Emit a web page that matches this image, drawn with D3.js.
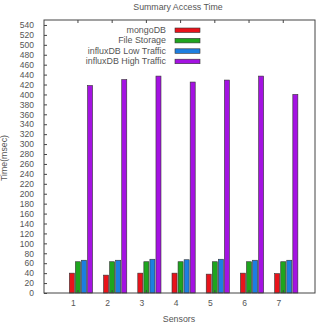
<!DOCTYPE html>
<html>
<head>
<meta charset="utf-8">
<script src="https://cdn.jsdelivr.net/npm/d3@7"></script>
<style>
  body { margin: 0; background: #fff; }
  text { font-family: "Liberation Sans", Arial, sans-serif; fill: #555; }
</style>
</head>
<body>
<svg id="chart" width="320" height="324"></svg>
<script>
// data
var sensors = ["1", "2", "3", "4", "5", "6", "7"];
var seriesNames = ["mongoDB", "File Storage", "influxDB Low Traffic", "influxDB High Traffic"];
var mongoDB = [40, 36, 40, 40, 38, 40, 39];
var fileStorage = [63, 63, 63, 63, 63, 63, 63];
var influxLow = [66, 66, 68, 67, 68, 66, 66];
var influxHigh = [418, 430, 437, 425, 429, 437, 400];
var yTicks = d3.range(0, 541, 20);

const colorArray = ["#e8131b", "#1ea51e", "#1d7ee0", "#a412e2"];
var seriesValues = [mongoDB, fileStorage, influxLow, influxHigh];

var svg = d3.select("#chart");
// note: "top" is taken by window.top, so plot edges get their own names
var pLeft = 44, pRight = 315, pTop = 20, pBottom = 293;

// gnuplot-ish x range, groups sit at 0..6
var x = d3.scaleLinear().domain([-1.08, 6.84]).range([pLeft, pRight]);
var y = d3.scaleLinear().domain([0, 550]).range([pBottom, pTop]);
var xSub = d3.scaleBand().domain(d3.range(4)).range([-11.6, 11.6]).paddingInner(0.17);

// title
svg.append("text")
   .attr("x", 178).attr("y", 10)
   .attr("text-anchor", "middle")
   .style("font-size", "8.8px")
   .text("Summary Access Time");

// bars
var groups = svg.selectAll("g.grp")
   .data(sensors)
   .enter()
   .append("g")
   .attr("class", "grp")
   .attr("transform", function(d, i) { return "translate(" + x(i) + ",0)"; });

groups.selectAll("rect")
   .data(function(d, i) { return seriesValues.map(function(s, k) { return {k: k, v: s[i]}; }); })
   .enter()
   .append("rect")
   .attr("x", function(d) { return xSub(d.k); })
   .attr("width", xSub.bandwidth())
   .attr("y", function(d) { return y(d.v); })
   .attr("height", function(d) { return pBottom - y(d.v); })
   .attr("fill", function(d) { return colorArray[d.k]; })
   .attr("stroke", "#333")
   .attr("stroke-width", 0.6);

// frame
svg.append("rect")
   .attr("x", pLeft).attr("y", pTop)
   .attr("width", pRight - pLeft).attr("height", pBottom - pTop)
   .attr("fill", "none").attr("stroke", "#444").attr("stroke-width", 1);

// y axis: ticks point inward
var yAxis = d3.axisLeft(y).tickValues(yTicks).tickSize(-3).tickPadding(10);
var gy = svg.append("g").attr("transform", "translate(" + pLeft + ",0)").call(yAxis);
gy.select(".domain").remove();
gy.selectAll("line").attr("stroke", "#444");
gy.selectAll("text").style("font-size", "8.5px").style("fill", "#555");

// x axis ticks (bottom and top, inward), labels shifted a bit left like the original
var tickPos = sensors.map(function(d, i) { return x(i) - 3; });
svg.selectAll("line.xtb")
   .data(tickPos).enter().append("line")
   .attr("x1", function(d) { return d; }).attr("x2", function(d) { return d; })
   .attr("y1", pBottom).attr("y2", pBottom - 3)
   .attr("stroke", "#444");
svg.selectAll("line.xtt")
   .data(tickPos).enter().append("line")
   .attr("x1", function(d) { return d; }).attr("x2", function(d) { return d; })
   .attr("y1", pTop).attr("y2", pTop + 3)
   .attr("stroke", "#444");
svg.selectAll("text.xl")
   .data(sensors).enter().append("text")
   .attr("class", "xl")
   .attr("x", function(d, i) { return x(i) - 7.5; })
   .attr("y", 306)
   .attr("text-anchor", "middle")
   .style("font-size", "8.5px")
   .text(function(d) { return d; });

// axis titles
svg.append("text")
   .attr("x", 179).attr("y", 322)
   .attr("text-anchor", "middle")
   .style("font-size", "8.8px")
   .text("Sensors");
svg.append("text")
   .attr("transform", "translate(7,158) rotate(-90)")
   .attr("text-anchor", "middle")
   .style("font-size", "8.8px")
   .text("Time(msec)");

// legend
var legend = svg.selectAll("g.leg")
   .data(seriesNames).enter().append("g")
   .attr("class", "leg")
   .attr("transform", function(d, i) { return "translate(0," + (30 + i * 10.4) + ")"; });
legend.append("text")
   .attr("x", 166).attr("y", 3)
   .attr("text-anchor", "end")
   .style("font-size", "8.9px")
   .text(function(d) { return d; });
legend.append("rect")
   .attr("x", 175).attr("y", -2)
   .attr("width", 25).attr("height", 4.5)
   .attr("fill", function(d, i) { return colorArray[i]; })
   .attr("stroke", "#333").attr("stroke-width", 0.6);
</script>
</body>
</html>
